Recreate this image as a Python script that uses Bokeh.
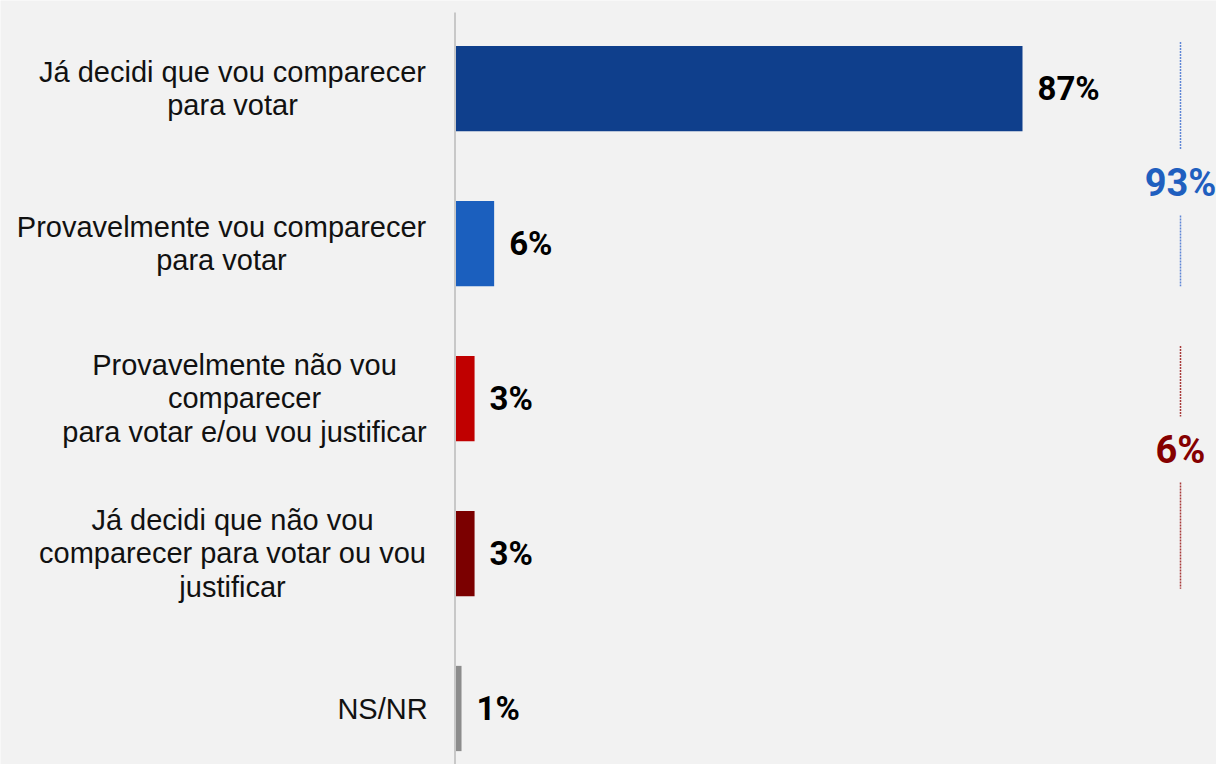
from bokeh.plotting import figure
from bokeh.models import Range1d, ColumnDataSource
from bokeh.core.properties import value
from bokeh.embed import file_html
from bokeh.resources import INLINE

# ---- data ----
categories = [
    "Já decidi que vou comparecer\npara votar",
    "Provavelmente vou comparecer\npara votar",
    "Provavelmente não vou\ncomparecer\npara votar e/ou vou justificar",
    "Já decidi que não vou\ncomparecer para votar ou vou\njustificar",
    "NS/NR",
]
values = [87, 6, 3, 3, 1]
bar_colors = ["#0f3f8c", "#1b5fbe", "#c00000", "#7b0000", "#8c8c8c"]
group_members = [[0, 1], [2, 3]]
group_totals = [93, 6]
group_colors = ["#1f5fbf", "#850000"]
group_line_colors = ["#5f86d6", "#a83a3a"]

# ---- layout ----
W, H = 1216, 764
ZERO_PX = 454.5          # x pixel of the 0% baseline
PX_PER_PCT = 6.523
TOP_PX = 88              # pixel of first bar center
ROW_PX = 155
BAR_H = 0.55
label_center_px = [232, 221, 244, 232, 382]   # center x of category label blocks
group_text_shift_px = [16.5, -26.5]            # vertical shift of total text from group middle
group_line_pad_px = [(4, 0), (10, 7.5)]        # (top extension, bottom inset)
BRACKET_X_PX = 1180

def px_to_x(px):
    return (px - ZERO_PX) / PX_PER_PCT

def dy(px):
    return px / ROW_PX

p = figure(width=W, height=H, output_backend="svg", toolbar_location=None,
           x_range=Range1d(px_to_x(0), px_to_x(W)),
           y_range=Range1d((H - TOP_PX) / ROW_PX, -TOP_PX / ROW_PX),
           min_border=0, outline_line_color=None,
           background_fill_color="#f2f2f2", border_fill_color="#f2f2f2")
p.axis.visible = False
p.grid.visible = False

idx = list(range(len(categories)))
src = ColumnDataSource(dict(
    y=idx, v=values, c=bar_colors, cat=categories,
    lab=[f"{v}%" for v in values],
    lx=[0] * len(idx),
    loff=[c - ZERO_PX for c in label_center_px],
))

p.hbar(y="y", left=0, right="v", height=BAR_H, fill_color="c", line_color=None, source=src)

# baseline (axis line)
p.segment(x0=0, x1=0, y0=-TOP_PX / ROW_PX + dy(12), y1=(H - TOP_PX) / ROW_PX,
          line_color="#c8c8c8", line_width=2)

# value labels
p.text(x="v", y="y", text="lab", source=src, x_offset=15,
       text_font=value("Roboto"), text_font_style="bold", text_font_size="33px",
       text_color="#000000", text_align="left", text_baseline="middle")

# category labels
p.text(x="lx", y="y", text="cat", source=src, x_offset="loff",
       text_font=value("Liberation Sans"), text_font_size="29px",
       text_color="#111111", text_align="center", text_baseline="middle",
       text_line_height=1.04)

# group totals with dotted brackets
bx = px_to_x(BRACKET_X_PX)
for g, members in enumerate(group_members):
    top = min(members) - BAR_H / 2 - dy(group_line_pad_px[g][0])
    bot = max(members) + BAR_H / 2 - dy(group_line_pad_px[g][1])
    mid = (min(members) + max(members)) / 2 + dy(group_text_shift_px[g])
    gap = dy(33)
    p.segment(x0=[bx, bx], x1=[bx, bx], y0=[top, mid + gap], y1=[mid - gap, bot],
              line_color=group_line_colors[g], line_width=1.5, line_dash="2 1")
    p.text(x=[bx], y=[mid], text=[f"{group_totals[g]}%"],
           text_font=value("Roboto"), text_font_style="bold", text_font_size="38px",
           text_color=group_colors[g], text_align="center", text_baseline="middle")

html = file_html(p, INLINE)
html = html.replace("<body>", '<body style="background-color:#f2f2f2;">', 1)
open("out.html", "w").write(html)
